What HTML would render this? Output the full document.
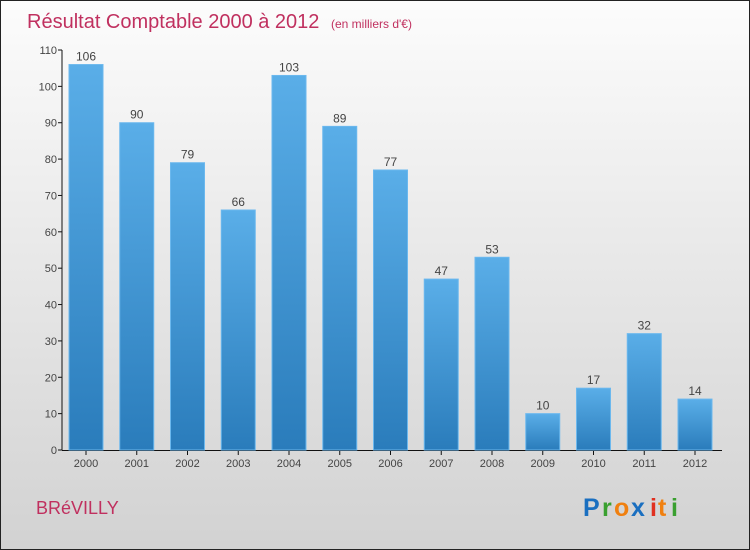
<!DOCTYPE html>
<html><head><meta charset="utf-8"><style>
body{margin:0;}
#wrap{position:relative;width:748px;height:548px;border:1px solid #222;background:linear-gradient(#fcfcfc,#d2d2d2);overflow:hidden;font-family:"Liberation Sans",sans-serif;}
</style></head><body>
<div id="wrap">
<svg id="chart" width="748" height="548">
<defs><linearGradient id="bg" x1="0" y1="0" x2="0" y2="1"><stop offset="0" stop-color="#5aaee8"/><stop offset="1" stop-color="#2a7cbb"/></linearGradient></defs>
<text x="26" y="27" font-size="20" fill="#c0305f">Résultat Comptable 2000 à 2012 <tspan font-size="12" dx="6">(en milliers d'€)</tspan></text>
<text x="35" y="513" font-size="18" fill="#c0305f">BRéVILLY</text>
<g font-size="25" font-weight="bold"><text x="582" y="515" fill="#1a6fc0">P</text><text x="601" y="515" fill="#3aa030">r</text><text x="613" y="515" fill="#f08010">o</text><text x="630" y="515" fill="#1a6fc0">x</text><text x="649" y="515" fill="#e03020">i</text><text x="657" y="515" fill="#f08010">t</text><text x="670" y="515" fill="#3aa030">i</text></g>
<g id="axes"></g><g id="bars"></g>
</svg></div>
<script>
const categories=["2000","2001","2002","2003","2004","2005","2006","2007","2008","2009","2010","2011","2012"];
const values=[106,90,79,66,103,89,77,47,53,10,17,32,14];
const yTicks=[0,10,20,30,40,50,60,70,80,90,100,110];
const NS="http://www.w3.org/2000/svg";
function y(v){return 449-v*(400/110);}
function x(i){return 85+i*50.75;}
function mk(t,a,p){const e=document.createElementNS(NS,t);for(const k in a)e.setAttribute(k,a[k]);p.appendChild(e);return e;}
const ax=document.getElementById('axes'),bs=document.getElementById('bars');
const yl=mk('line',{x1:61,y1:y(110),x2:61,y2:449,stroke:'#111'},ax);


const xl=mk('line',{x1:61,y1:449.5,x2:721,y2:449.5,stroke:'#111'},ax);


yTicks.forEach(v=>{
 mk('line',{x1:57,x2:61,y1:y(v),y2:y(v),stroke:'#111'},ax);
 const t=mk('text',{x:56,y:y(v)+4,'font-size':11,'text-anchor':'end',fill:'#444'},ax);t.textContent=v;
 
 
});
categories.forEach((c,i)=>{
 const cx=x(i);
 mk('line',{x1:cx,x2:cx,y1:450,y2:454,stroke:'#111'},ax);
 const t=mk('text',{x:cx,y:466,'font-size':11,'text-anchor':'middle',fill:'#444'},ax);t.textContent=c;
 
 
 const r=mk('rect',{x:cx-17,y:y(values[i]),width:34,height:449-y(values[i]),fill:'url(#bg)',stroke:'#6bb8ee','stroke-width':1},bs);
 
 
 const l=mk('text',{x:cx,y:y(values[i])-4,'font-size':12,'text-anchor':'middle',fill:'#444'},bs);l.textContent=values[i];
 
 
});
</script>
</body></html>
